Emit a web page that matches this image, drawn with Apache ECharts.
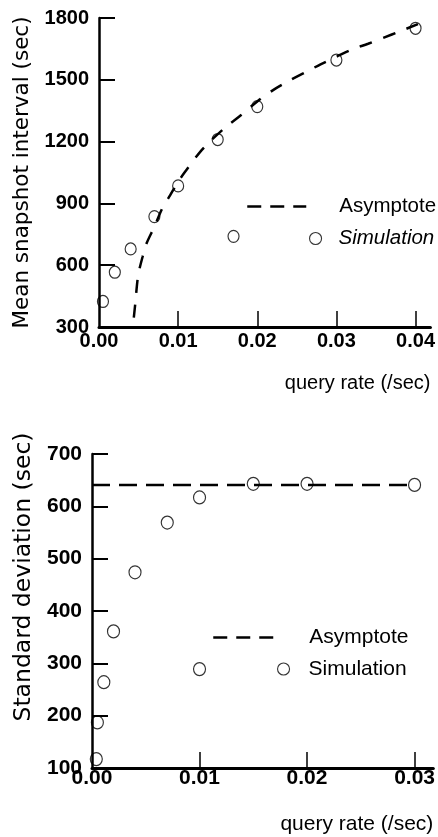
<!DOCTYPE html>
<html><head><meta charset="utf-8">
<script src="https://cdn.jsdelivr.net/npm/echarts@6/dist/echarts.min.js"></script>
<style>html,body{margin:0;padding:0;background:#fff}#c{width:438px;height:837px}</style>
</head><body><div id="c"></div>
<script>
// ---- Top chart data ----
const topSimX = [0.0005, 0.002, 0.004, 0.007, 0.010, 0.015, 0.020, 0.030, 0.040, 0.017];
const topSimY = [424, 566, 679, 836, 985, 1210, 1370, 1596, 1750, 740];
const topAsymX = [0.0044, 0.0046, 0.0048, 0.005, 0.0055, 0.006, 0.007, 0.008, 0.009, 0.010, 0.011, 0.012, 0.013, 0.014, 0.016, 0.018, 0.020, 0.022, 0.024, 0.026, 0.028, 0.030, 0.032, 0.034, 0.036, 0.038, 0.0403];
const topAsymY = [345, 420, 505, 562, 640, 705, 787, 876, 940, 1005, 1060, 1112, 1160, 1200, 1270, 1330, 1395, 1450, 1495, 1535, 1575, 1612, 1648, 1675, 1705, 1735, 1770];
const topXTicks = [0, 0.01, 0.02, 0.03, 0.04];
// ---- Bottom chart data ----
const botSimX = [0.0004, 0.0005, 0.0011, 0.002, 0.004, 0.007, 0.010, 0.015, 0.020, 0.030, 0.010];
const botSimY = [117, 187, 264, 361, 474, 569, 617, 643, 643, 641, 289];
const botAsymX = [0, 0.03];
const botAsymY = [641, 641];
const botXTicks = [0, 0.01, 0.02, 0.03];

const zip = (xs, ys) => xs.map((x, i) => [x, ys[i]]);
const FONT = '"Liberation Sans", Arial, Helvetica, sans-serif';
const BLACK = '#000';

function xAxis(grid, max, ticks, fs, margin, namePad) {
  return {
    gridIndex: grid, type: 'value', min: 0, max: max, interval: 0.01,
    axisLine: { show: true, lineStyle: { color: BLACK, width: 3 } },
    axisTick: { show: true, inside: true, length: 16, customValues: ticks.slice(1), lineStyle: { color: BLACK, width: 1.5 } },
    axisLabel: { customValues: ticks, formatter: v => v.toFixed(2), color: BLACK, fontWeight: 'bold', fontSize: fs, fontFamily: FONT, margin: margin },
    splitLine: { show: false },
    name: 'query rate (/sec)', nameLocation: 'end', nameGap: 0,
    nameTextStyle: { color: BLACK, fontSize: fs, fontFamily: FONT, align: 'right', verticalAlign: 'top', padding: [namePad, 0, 0, 0] }
  };
}
function yAxis(grid, min, max, step, fs, name, nfs, gap, pad) {
  return {
    gridIndex: grid, type: 'value', min: min, max: max, interval: step,
    axisLine: { show: true, lineStyle: { color: BLACK, width: 2.5 } },
    axisTick: { show: true, inside: true, length: 16, lineStyle: { color: BLACK, width: 2 } },
    axisLabel: { formatter: v => String(v), color: BLACK, fontWeight: 'bold', fontSize: fs, fontFamily: FONT, margin: 10 },
    splitLine: { show: false },
    name: name, nameLocation: 'middle', nameGap: gap,
    nameTextStyle: { color: BLACK, fontSize: nfs, fontFamily: '"DejaVu Sans", sans-serif', padding: pad }
  };
}
const simStyle = { color: 'rgba(0,0,0,0)', borderColor: BLACK, borderWidth: 1.2 };
const hideSym = { opacity: 0, color: 'rgba(0,0,0,0)', borderWidth: 0 };
const legSim = { color: 'rgba(0,0,0,0)', borderColor: BLACK, borderWidth: 1.1 };

const option = {
  backgroundColor: '#fff',
  animation: false,
  grid: [
    { left: 99, top: 18, width: 334, height: 309 },
    { left: 92, top: 454, width: 346, height: 314 }
  ],
  xAxis: [
    xAxis(0, 0.04 * 334 / 319, topXTicks, 20, 4, 46),
    xAxis(1, 0.03 * 346 / 327, botXTicks, 21, 0, 46)
  ],
  yAxis: [
    yAxis(0, 300, 1800, 300, 20, 'Mean snapshot interval (sec)', 21.5, 62, 0),
    yAxis(1, 100, 700, 100, 21, 'Standard deviation (sec)', 23.5, 56, [0, 0, 0, 68])
  ],
  legend: [
    { data: ['Asymptote'], left: 246, top: 196, padding: 0, itemWidth: 59, itemHeight: 14,
      itemStyle: hideSym,
      lineStyle: { color: BLACK, width: 2.5, type: [14, 9] },
      textStyle: { color: BLACK, fontSize: 20.5, fontFamily: FONT, padding: [0, 0, 0, 28] } },
    { data: ['Simulation'], left: 309, top: 228.5, padding: 0, itemWidth: 12, itemHeight: 12,
      itemStyle: legSim,
      textStyle: { color: BLACK, fontSize: 20.5, fontStyle: 'italic', fontFamily: FONT, padding: [0, 0, 0, 12] } },
    { data: ['Asymptote'], left: 212, top: 627, padding: 0, itemWidth: 61, itemHeight: 14,
      itemStyle: hideSym,
      lineStyle: { color: BLACK, width: 2.5, type: [14, 9] },
      textStyle: { color: BLACK, fontSize: 21, fontFamily: FONT, padding: [0, 0, 0, 30] } },
    { data: ['Simulation'], left: 277, top: 658.5, padding: 0, itemWidth: 12, itemHeight: 12,
      itemStyle: legSim,
      textStyle: { color: BLACK, fontSize: 21, fontFamily: FONT, padding: [0, 0, 0, 14] } }
  ],
  series: [
    { name: 'Asymptote', type: 'line', xAxisIndex: 0, yAxisIndex: 0, data: zip(topAsymX, topAsymY),
      symbol: 'none', smooth: 0.3, itemStyle: { color: BLACK }, lineStyle: { color: BLACK, width: 2.5, type: [13, 12] }, z: 2 },
    { name: 'Simulation', type: 'scatter', xAxisIndex: 0, yAxisIndex: 0, data: zip(topSimX, topSimY),
      symbol: 'circle', symbolSize: [11, 12], itemStyle: simStyle, z: 3 },
    { name: 'Asymptote', type: 'line', xAxisIndex: 1, yAxisIndex: 1, data: zip(botAsymX, botAsymY),
      symbol: 'none', itemStyle: { color: BLACK }, lineStyle: { color: BLACK, width: 2.5, type: [18, 9] }, z: 2 },
    { name: 'Simulation', type: 'scatter', xAxisIndex: 1, yAxisIndex: 1, data: zip(botSimX, botSimY),
      symbol: 'circle', symbolSize: [12, 13], itemStyle: simStyle, z: 3 }
  ]
};
const chart = echarts.init(document.getElementById('c'), null, { renderer: 'canvas' });
chart.setOption(option);
</script>
</body></html>
